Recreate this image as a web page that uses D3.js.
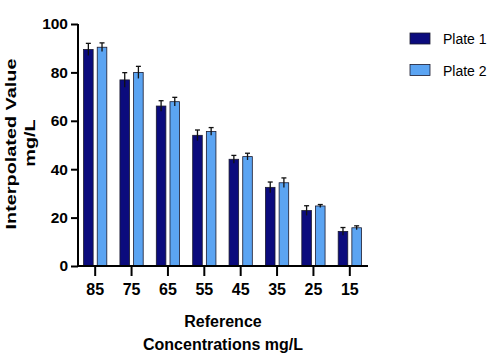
<!DOCTYPE html>
<html>
<head>
<meta charset="utf-8">
<script src="https://cdn.jsdelivr.net/npm/d3@7"></script>
<style>
  body { margin: 0; background: #fff; }
  text { font-family: "Liberation Sans", Arial, sans-serif; }
</style>
</head>
<body>
<div id="chart"></div>
<script>
// values
var concentrations = ["85", "75", "65", "55", "45", "35", "25", "15"]
var series = ["Plate 1", "Plate 2"]
var plate1 = [89.5, 76.9, 66.1, 54.0, 44.1, 32.5, 22.9, 14.3]
var plate1Err = [2.5, 3.0, 2.2, 2.2, 1.6, 2.2, 2.0, 1.6]
var plate2 = [90.4, 80.0, 67.9, 55.6, 45.2, 34.4, 24.8, 15.8]
var plate2Err = [1.8, 2.5, 1.8, 1.6, 1.4, 2.0, 0.6, 0.8]
var yTicks = [0, 20, 40, 60, 80, 100]
var colors = ["#0b0b7d", "#5ba4f2"]

var width = 501, height = 359

var svg = d3.select("#chart")
  .append("svg")
    .attr("width", width)
    .attr("height", height)

var x = d3.scaleBand()
  .domain(concentrations)
  .range([77, 368])
  .padding(0)

var xs = d3.scaleBand()
  .domain(series)
  .range([0, x.bandwidth()])
  .paddingInner(0.3)
  .paddingOuter(0.48)

var y = d3.scaleLinear()
  .domain([0, 100])
  .range([266, 24])

var rows = concentrations.map(function(c, i) {
  return [
    {c: c, s: series[0], v: plate1[i], e: plate1Err[i], color: colors[0]},
    {c: c, s: series[1], v: plate2[i], e: plate2Err[i], color: colors[1]}
  ]
})
var flat = [].concat.apply([], rows)

// bars
svg.selectAll("rect.bar")
  .data(flat)
  .enter()
  .append("rect")
    .attr("class", "bar")
    .attr("x", function(d) { return x(d.c) + xs(d.s) })
    .attr("y", function(d) { return y(d.v) })
    .attr("width", xs.bandwidth())
    .attr("height", function(d) { return y(0) - y(d.v) })
    .attr("fill", function(d) { return d.color })
    .attr("stroke", "#1a1a2e")
    .attr("stroke-width", 0.8)

// error bars (upper only, like the reference)
var err = svg.selectAll("g.err")
  .data(flat)
  .enter()
  .append("g")
    .attr("class", "err")
    .attr("stroke", "#111")
    .attr("stroke-width", 1.3)
err.append("line")
  .attr("x1", function(d) { return x(d.c) + xs(d.s) + xs.bandwidth() / 2 })
  .attr("x2", function(d) { return x(d.c) + xs(d.s) + xs.bandwidth() / 2 })
  .attr("y1", function(d) { return y(d.v - d.e) })
  .attr("y2", function(d) { return y(d.v + d.e) })
err.append("line")
  .attr("x1", function(d) { return x(d.c) + xs(d.s) + xs.bandwidth() / 2 - 2.5 })
  .attr("x2", function(d) { return x(d.c) + xs(d.s) + xs.bandwidth() / 2 + 2.5 })
  .attr("y1", function(d) { return y(d.v + d.e) })
  .attr("y2", function(d) { return y(d.v + d.e) })

// Y axis
var yAxis = svg.append("g")
  .attr("transform", "translate(78,0)")
  .call(d3.axisLeft(y).tickValues(yTicks).tickSize(7).tickPadding(3))
yAxis.select(".domain").attr("d", "M0," + y(100) + "V" + y(0)).attr("stroke-width", 2)
yAxis.selectAll(".tick line").attr("stroke-width", 2)
yAxis.selectAll(".tick text")
  .style("font-size", "15.5px")
  .style("font-weight", "bold")
  .attr("fill", "#000")

// X axis
var xAxis = svg.append("g")
  .attr("transform", "translate(0," + y(0) + ")")
  .call(d3.axisBottom(x).tickSize(10).tickPadding(8))
xAxis.select(".domain").attr("d", "M77,0H368").attr("stroke-width", 2)
xAxis.selectAll(".tick line").attr("stroke-width", 2)
xAxis.selectAll(".tick text")
  .style("font-size", "16px")
  .style("font-weight", "bold")
  .attr("fill", "#000")

// axis titles
svg.append("text")
  .attr("x", 223).attr("y", 327)
  .attr("text-anchor", "middle")
  .style("font-size", "16px").style("font-weight", "bold")
  .text("Reference")
svg.append("text")
  .attr("x", 223).attr("y", 350)
  .attr("text-anchor", "middle")
  .style("font-size", "16px").style("font-weight", "bold")
  .text("Concentrations mg/L")

svg.append("text")
  .attr("transform", "translate(16,144) rotate(-90) scale(1.28,1)")
  .attr("text-anchor", "middle")
  .style("font-size", "15.5px").style("font-weight", "bold")
  .text("Interpolated Value")
svg.append("text")
  .attr("transform", "translate(34.5,143) rotate(-90) scale(1.28,1)")
  .attr("text-anchor", "middle")
  .style("font-size", "15.5px").style("font-weight", "bold")
  .text("mg/L")

// legend
var legend = svg.selectAll("g.legend")
  .data(series)
  .enter()
  .append("g")
    .attr("class", "legend")
    .attr("transform", function(d, i) { return "translate(410," + (33 + i * 31.5) + ")" })
legend.append("rect")
  .attr("width", 20).attr("height", 11)
  .attr("fill", function(d, i) { return colors[i] })
  .attr("stroke", "#1a1a2e").attr("stroke-width", 0.8)
legend.append("text")
  .attr("x", 33).attr("y", 11.3)
  .style("font-size", "14px")
  .text(function(d) { return d })
</script>
</body>
</html>
